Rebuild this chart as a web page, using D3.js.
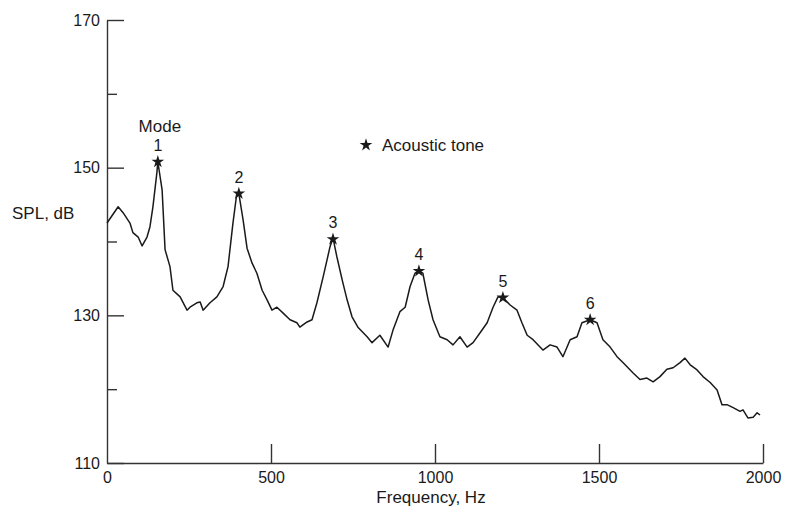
<!DOCTYPE html>
<html>
<head>
<meta charset="utf-8">
<script src="https://cdn.jsdelivr.net/npm/d3@7"></script>
<style>
  body { margin: 0; background: #fff; }
  svg { font-family: "Liberation Sans", Arial, sans-serif; }
</style>
</head>
<body>
<svg id="chart" width="786" height="509"></svg>
<script>
// DATA
const freq = [0, 34, 49, 70, 79, 95, 107, 122, 131, 140, 152, 155, 168, 177, 192, 201, 223, 244, 253, 274,
  284, 293, 314, 335, 354, 369, 384, 396, 402, 415, 427, 442, 457, 473, 488, 503, 518, 537, 558, 579,
  588, 610, 625, 640, 659, 680, 689, 701, 717, 732, 747, 765, 793, 808, 832, 857, 872, 893, 909, 924,
  939, 951, 963, 979, 994, 1015, 1037, 1055, 1076, 1098, 1116, 1137, 1159, 1177, 1192, 1207, 1229, 1250, 1265, 1281,
  1299, 1329, 1351, 1372, 1390, 1412, 1433, 1448, 1473, 1494, 1512, 1534, 1555, 1573, 1604, 1625, 1646, 1665, 1686, 1707,
  1726, 1747, 1762, 1778, 1799, 1817, 1839, 1860, 1875, 1890, 1909, 1930, 1939, 1954, 1970, 1982, 1991];
const spl = [142.5, 144.7, 143.9, 142.5, 141.2, 140.6, 139.4, 140.6, 142.0, 144.7, 149.3, 150.8, 147.0, 138.9, 136.6, 133.4, 132.5, 130.7, 131.1, 131.7,
  131.8, 130.7, 131.7, 132.5, 133.9, 136.6, 142.5, 146.6, 146.5, 142.9, 139.1, 137.1, 135.7, 133.4, 132.1, 130.7, 131.1, 130.3, 129.4, 129.0,
  128.4, 129.1, 129.4, 131.7, 135.2, 139.3, 140.5, 137.9, 134.8, 132.1, 129.8, 128.4, 127.1, 126.3, 127.3, 125.7, 128.0, 130.5, 131.1, 133.9,
  135.7, 136.0, 135.7, 132.1, 129.4, 127.1, 126.7, 126.0, 127.1, 125.7, 126.3, 127.6, 129.0, 131.1, 132.5, 132.4, 131.4, 130.7, 129.0, 127.3,
  126.7, 125.3, 126.0, 125.7, 124.4, 126.7, 127.1, 129.0, 129.4, 129.0, 126.7, 125.7, 124.4, 123.6, 122.2, 121.3, 121.5, 121.0, 121.7, 122.7,
  122.9, 123.6, 124.2, 123.3, 122.6, 121.7, 120.9, 119.9, 117.9, 117.9, 117.5, 117.0, 117.2, 116.1, 116.2, 116.8, 116.5];

const modes = ["1", "2", "3", "4", "5", "6"];
const toneFreq = [155, 402, 689, 951, 1207, 1473];
const toneSpl = [150.8, 146.5, 140.3, 136.0, 132.4, 129.4];

const xTicks = [0, 500, 1000, 1500, 2000];
const yMajor = [110, 130, 150, 170];
const yMinor = [120, 140, 160];

// CANVAS SETUP
const svg = d3.select("#chart");
const x = d3.scaleLinear().domain([0, 2000]).range([107, 763]);
const y = d3.scaleLinear().domain([110, 170]).range([463, 20]);
const ink = "#1a1a1a";

// AXES
const gy = svg.append("g").attr("transform", `translate(${x(0)},0)`)
  .call(d3.axisLeft(y).tickValues(yMajor).tickSize(-17).tickSizeOuter(0).tickPadding(7).tickFormat(d3.format("d")));
const gym = svg.append("g").attr("transform", `translate(${x(0)},0)`)
  .call(d3.axisLeft(y).tickValues(yMinor).tickSize(-10).tickSizeOuter(0).tickFormat(""));
gym.select(".domain").remove();

const gx = svg.append("g").attr("transform", `translate(0,${y(110)})`)
  .call(d3.axisBottom(x).tickValues(xTicks).tickSize(-19).tickSizeOuter(0).tickPadding(9).tickFormat(d3.format("d")));

[gy, gym, gx].forEach((g) => {
  g.selectAll(".domain, line").attr("stroke", "#333").attr("stroke-width", 1.4);
  g.selectAll("text").attr("fill", ink).style("font-size", "16px").style("font-family", "Liberation Sans, Arial, sans-serif");
});
gx.select(".tick line").remove(); // the 0 tick sits on the y axis

// axis titles
svg.append("text").attr("x", 431).attr("y", 503).attr("text-anchor", "middle")
  .attr("fill", ink).style("font-size", "17px").text("Frequency, Hz");
svg.append("text").attr("x", 12).attr("y", 219)
  .attr("fill", ink).style("font-size", "17px").text("SPL, dB");

// SPECTRUM
const pts = freq.map((f, i) => [f, spl[i]]);
svg.append("path").datum(pts)
  .attr("fill", "none").attr("stroke", ink).attr("stroke-width", 1.5).attr("stroke-linejoin", "round")
  .attr("d", d3.line().x((d) => x(d[0])).y((d) => y(d[1])));

// TONE MARKERS
const star = d3.symbol().type(d3.symbolStar).size(50);
svg.append("g").selectAll("path")
  .data(modes)
  .join("path")
  .attr("transform", (d, i) => `translate(${x(toneFreq[i])},${y(toneSpl[i])})`)
  .attr("d", star).attr("fill", ink);

svg.append("g").selectAll("text")
  .data(modes)
  .join("text")
  .attr("x", (d, i) => x(toneFreq[i]))
  .attr("y", (d, i) => y(toneSpl[i]) - 11)
  .attr("text-anchor", "middle").attr("fill", ink).style("font-size", "16px")
  .text((d) => d);

svg.append("text").attr("x", x(toneFreq[0]) + 2).attr("y", y(toneSpl[0]) - 30)
  .attr("text-anchor", "middle").attr("fill", ink).style("font-size", "17px").text("Mode");

// LEGEND
svg.append("path").attr("transform", "translate(366,145)").attr("d", star).attr("fill", ink);
svg.append("text").attr("x", 382).attr("y", 151).attr("fill", ink).style("font-size", "17px").text("Acoustic tone");
</script>
</body>
</html>
